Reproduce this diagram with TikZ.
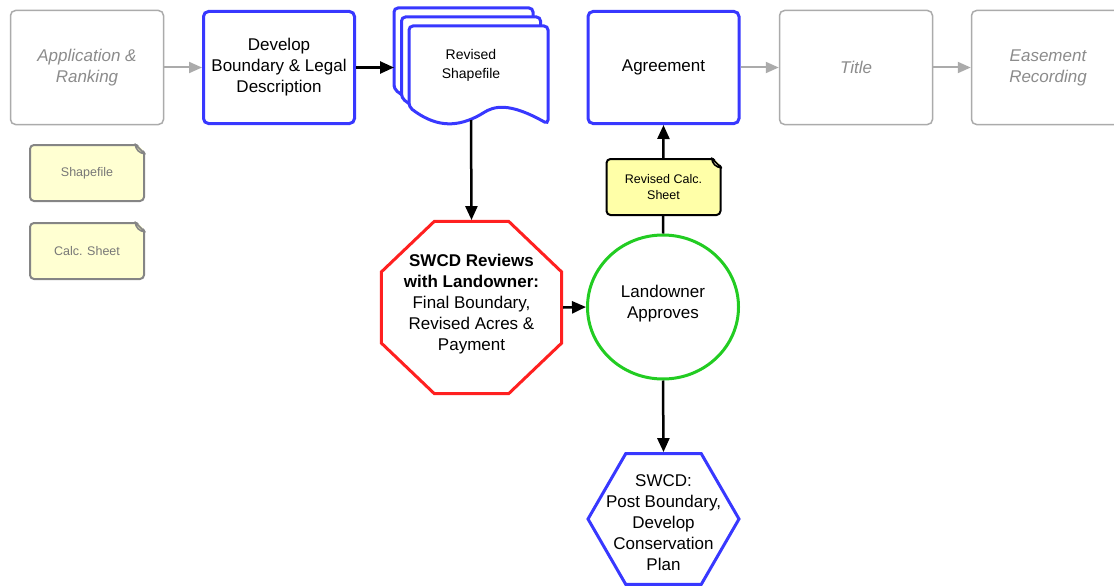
\documentclass[tikz,border=0pt]{standalone}
\usepackage{fontspec}
\setmainfont{Liberation Sans}
\usetikzlibrary{arrows.meta,shapes.geometric,calc}
\definecolor{bblue}{HTML}{3838FF}
\definecolor{rred}{HTML}{FF2020}
\definecolor{ggreen}{HTML}{22CC22}
\definecolor{gline}{HTML}{ABABAB}
\definecolor{gtext}{HTML}{8C8C8C}
\definecolor{nfill}{HTML}{FFFFD2}
\definecolor{nline}{HTML}{858585}
\definecolor{ntext}{HTML}{777777}
\definecolor{nfill2}{HTML}{FFFFA8}
\definecolor{folda}{HTML}{D8D8B0}
\newcommand\mydocshape{[rounded corners=4pt] (0,81) -- (0,0) -- (139,0) -- (139,98) .. controls (100,76) and (85,80) .. (71,89) .. controls (45,102) and (25,100) .. (0,81) -- cycle}
\newcommand\notefold[3]{%
  \fill[white] ($(#1.north east)+(-10,-2)$) -- ($(#1.north east)+(2,-2)$) -- ($(#1.north east)+(2,10)$) -- cycle;
  \filldraw[fill=#2, draw=#3, line width=1.5pt, line join=round] ($(#1.north east)+(-10,0)$) .. controls ($(#1.north east)+(-9,6)$) and ($(#1.north east)+(-6,9)$) .. ($(#1.north east)+(0,10)$) -- cycle;}
\begin{document}
\begin{tikzpicture}[x=1pt,y=-1pt,
 greybox/.style={draw=gline, fill=white, line width=1.5pt, rounded corners=5pt, minimum width=153pt, minimum height=114pt, text=gtext, font=\fontsize{17}{21}\selectfont\itshape, align=center},
 bluebox/.style={draw=bblue, fill=white, line width=3pt, rounded corners=5pt, minimum width=151pt, minimum height=112pt, font=\fontsize{17}{21}\selectfont, align=center},
 garrow/.style={draw=gline, line width=2pt, -{Triangle[length=13pt,width=11pt]}},
 karrow/.style={draw=black, line width=2.5pt, -{Triangle[length=14pt,width=12pt]}},
 notebox/.style={rounded corners=4pt, line width=2pt, minimum width=114pt, minimum height=56pt, font=\fontsize{12.5}{15.5}\selectfont, align=center},
 docsty/.style={draw=bblue, fill=white, line width=3pt},
 lbl/.style={font=\fontsize{17}{21}\selectfont, align=center, inner sep=0pt},
]
\useasboundingbox (0,0) rectangle (1114,586);
% top row
\node[greybox] (app) at (87,67.5) {Application \&\\Ranking};
\node[bluebox] (dev) at (279,67.5) {Develop\\Boundary \& Legal\\Description};
\node[bluebox] (agr) at (663.5,67.5) {Agreement};
\node[greybox] (title) at (856,67.5) {Title};
\node[greybox] (ease) at (1048,67.5) {Easement\\Recording};
% document stack
\begin{scope}[shift={(394,8)}] \filldraw[docsty] \mydocshape; \end{scope}
\begin{scope}[shift={(401.5,17)}] \filldraw[docsty] \mydocshape; \end{scope}
\begin{scope}[shift={(409,26)}] \filldraw[docsty] \mydocshape; \end{scope}
\node[font=\fontsize{14}{19}\selectfont, align=center] (docT) at (471,65) {Revised\\Shapefile};
\coordinate (docW) at (394,67.5);
\coordinate (docS) at (471,120);
% legend notes
\node[notebox, draw=nline, fill=nfill, text=ntext] (n1) at (87,173) {Shapefile};
\notefold{n1}{folda}{nline}
\node[notebox, draw=nline, fill=nfill, text=ntext] (n2) at (87,251) {Calc. Sheet};
\notefold{n2}{folda}{nline}
% main shapes
\begin{scope}[shift={(471.5,307.5)}, yscale=0.955]
\node[draw=rred, line width=3pt, regular polygon, regular polygon sides=8, minimum size=195pt, inner sep=0pt, transform shape] (oct) at (0,0) {};
\end{scope}
\node[lbl] (octT) at (471.5,304) {\textbf{SWCD Reviews}\\\textbf{with Landowner:}\\Final Boundary,\\Revised Acres \&\\Payment};
\node[draw=ggreen, line width=3pt, ellipse, minimum width=151pt, minimum height=144pt, inner sep=0pt] (circ) at (663,307) {};
\node[lbl] (circT) at (663,303.5) {Landowner\\Approves};
\node[draw=bblue, line width=3pt, regular polygon, regular polygon sides=6, minimum size=151pt, inner sep=0pt] (hex) at (663.5,519) {};
\node[lbl] (hexT) at (663.5,522.5) {SWCD:\\Post Boundary,\\Develop\\Conservation\\Plan};
% connectors
\draw[garrow] (app) -- (dev);
\draw[karrow] (dev.east) -- (docW);
\draw[karrow] (docS) -- (oct.north);
\draw[karrow] (oct.east) -- (circ.west);
\draw[karrow] (circ.north) -- (agr.south);
\draw[karrow] (circ.south) -- (hex.north);
\draw[garrow] (agr) -- (title);
\draw[garrow] (title) -- (ease);
% revised calc sheet note over the connector
\node[notebox, draw=black, fill=nfill2, text=black] (n3) at (663.5,187) {Revised Calc.\\Sheet};
\notefold{n3}{folda}{black}
\end{tikzpicture}
\end{document}
